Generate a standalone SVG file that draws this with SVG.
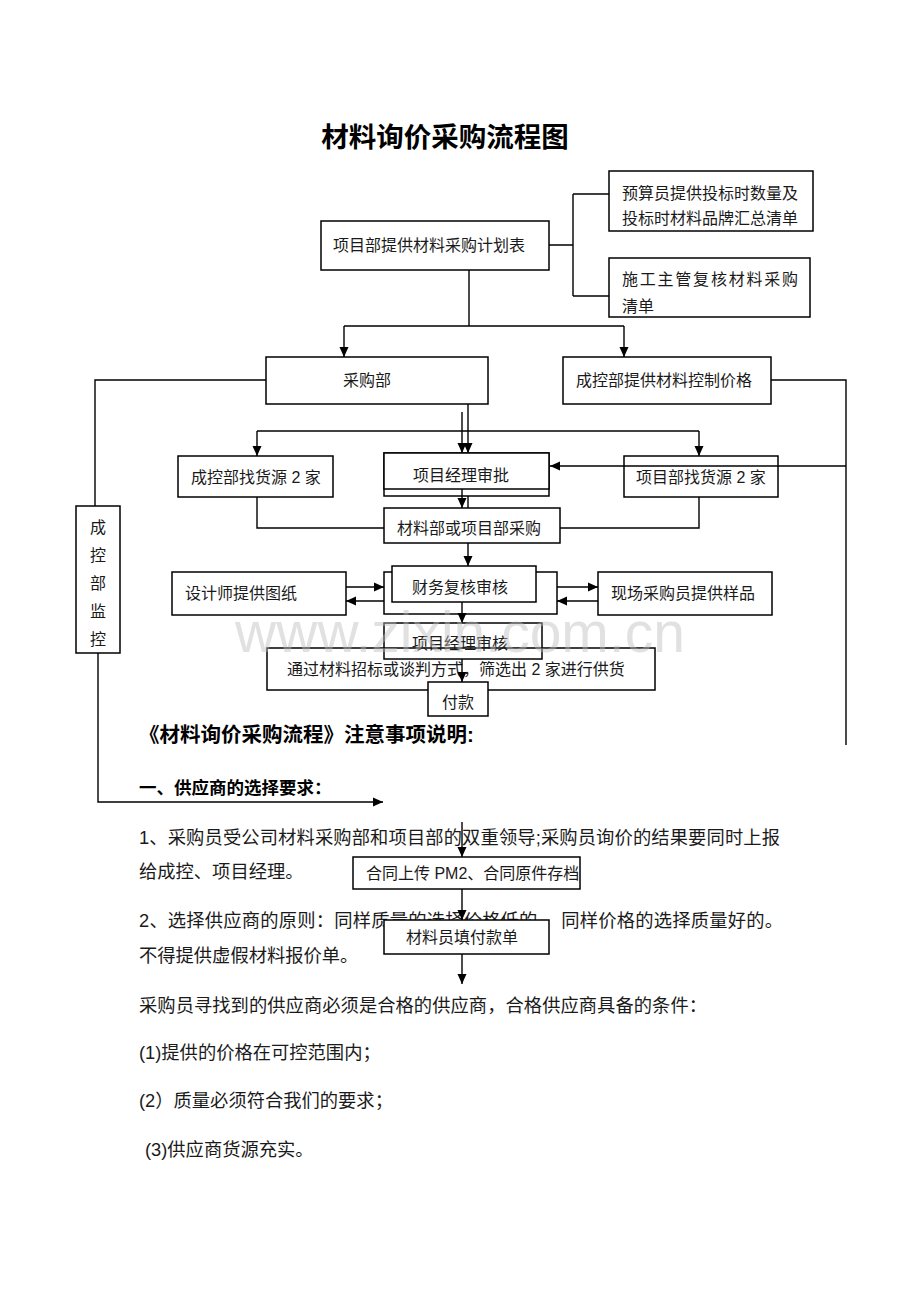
<svg xmlns="http://www.w3.org/2000/svg" width="920" height="1302" viewBox="0 0 920 1302">
<style>
.box{fill:#fff;stroke:#000;stroke-width:1.5}
.t{font-family:"Liberation Sans","Noto Sans CJK SC",sans-serif;font-size:16px;fill:#1a1a1a}
.b{font-family:"Liberation Sans","Noto Sans CJK SC",sans-serif;font-size:18.3px;fill:#1a1a1a}
.h{font-family:"Liberation Sans","Noto Sans CJK SC",sans-serif;font-weight:bold;fill:#000}
.c{fill:none;stroke:#000;stroke-width:1.4}
.a{marker-end:url(#arr)}
</style>
<defs>
<marker id="arr" viewBox="0 0 10 10" refX="10" refY="5" markerWidth="10" markerHeight="10" markerUnits="userSpaceOnUse" orient="auto">
<path d="M0,0.5 L10,5 L0,9.5 z" fill="#000"/>
</marker>
</defs>
<rect width="920" height="1302" fill="#fff"/>
<text class="h" x="445" y="147" font-size="27.5" text-anchor="middle">材料询价采购流程图</text>
<g id="notes">
<text class="h" x="139" y="742" font-size="20.5">《材料询价采购流程》注意事项说明:</text>
<text class="h" x="139" y="794" font-size="17.5">一、供应商的选择要求：</text>
<text class="b" x="139" y="844" textLength="641" lengthAdjust="spacing">1、采购员受公司材料采购部和项目部的双重领导;采购员询价的结果要同时上报</text>
<text class="b" x="139" y="878">给成控、项目经理。</text>
<text class="b" x="139" y="927" textLength="644" lengthAdjust="spacing">2、选择供应商的原则：同样质量的选择价格低的， 同样价格的选择质量好的。</text>
<text class="b" x="139" y="962">不得提供虚假材料报价单。</text>
<text class="b" x="139" y="1012" textLength="568" lengthAdjust="spacing">采购员寻找到的供应商必须是合格的供应商，合格供应商具备的条件：</text>
<text class="b" x="139" y="1059">(1)提供的价格在可控范围内；</text>
<text class="b" x="139" y="1107">(2）质量必须符合我们的要求；</text>
<text class="b" x="145" y="1156">(3)供应商货源充实。</text>
</g>
<g id="n-plan"><rect class="box" x="321" y="221" width="228" height="49"/><text class="t" x="333" y="251">项目部提供材料采购计划表</text></g>
<g id="n-budget"><rect class="box" x="609" y="171" width="204" height="60"/><text class="t" x="622" y="199">预算员提供投标时数量及</text><text class="t" x="622" y="224">投标时材料品牌汇总清单</text></g>
<g id="n-construct"><rect class="box" x="609" y="258" width="201" height="59"/><text class="t" x="622" y="285" textLength="176" lengthAdjust="spacing">施工主管复核材料采购</text><text class="t" x="622" y="312">清单</text></g>
<g id="n-purchase"><rect class="box" x="266" y="357" width="222" height="47"/><text class="t" x="343" y="386">采购部</text></g>
<g id="n-costprice"><rect class="box" x="563" y="357" width="208" height="47"/><text class="t" x="576" y="386">成控部提供材料控制价格</text></g>
<g id="n-monitor"><rect class="box" x="76" y="506" width="44" height="147"/>
<text class="t" x="98" y="533" text-anchor="middle">成</text><text class="t" x="98" y="561" text-anchor="middle">控</text><text class="t" x="98" y="589" text-anchor="middle">部</text><text class="t" x="98" y="617" text-anchor="middle">监</text><text class="t" x="98" y="645" text-anchor="middle">控</text></g>
<g id="n-costsrc"><rect class="box" x="178" y="456" width="155" height="41"/><text class="t" x="191" y="483">成控部找货源 2 家</text></g>
<g id="n-projsrc"><rect class="box" x="624" y="456" width="154" height="41"/><text class="t" x="636" y="483">项目部找货源 2 家</text></g>
<g id="n-pmapprove"><rect class="box" x="384" y="453" width="165" height="43"/><rect class="box" x="384" y="453" width="165" height="36"/><text class="t" x="413" y="481">项目经理审批</text></g>
<g id="n-buy"><rect class="box" x="384" y="508" width="176" height="35"/><text class="t" x="397" y="534">材料部或项目部采购</text></g>
<g id="n-finance"><rect class="box" x="384" y="572" width="173" height="42"/><rect class="box" x="392" y="566" width="144" height="36"/><text class="t" x="412" y="593">财务复核审核</text></g>
<g id="n-designer"><rect class="box" x="172" y="572" width="174" height="43"/><text class="t" x="185" y="599">设计师提供图纸</text></g>
<g id="n-sample"><rect class="box" x="598" y="572" width="174" height="43"/><text class="t" x="611" y="599">现场采购员提供样品</text></g>
<g id="n-tender"><rect class="box" x="267" y="648" width="388" height="42"/><text class="t" x="287" y="675">通过材料招标或谈判方式，筛选出 2 家进行供货</text></g>
<g id="n-pmreview"><rect class="box" x="384" y="623" width="158" height="36" style="fill:none"/><rect x="385" y="624" width="156" height="23" fill="#fff"/><text class="t" x="412" y="649">项目经理审核</text></g>
<g id="n-pay"><rect class="box" x="428" y="682" width="60" height="34"/><text class="t" x="442" y="708">付款</text></g>
<g id="n-contract"><rect class="box" x="353" y="857" width="227" height="32"/><text class="t" x="366" y="879" font-size="15">合同上传 PM2、合同原件存档</text></g>
<g id="n-payform"><rect class="box" x="384" y="920" width="165" height="34"/><text class="t" x="406" y="943">材料员填付款单</text></g>
<g id="connectors">
<path class="c" d="M549,245 H573 M573,194 V296 M573,194 H609 M573,296 H609"/>
<path class="c" d="M469,270 V326 M344,326 H624"/>
<path class="c a" d="M344,326 V357"/>
<path class="c a" d="M624,326 V357"/>
<path class="c" d="M266,380 H95 V506 M771,380 H846 V745"/>
<path class="c a" d="M98,653 V802 H383"/>
<path class="c a" d="M846,466 H550"/>
<path class="c a" d="M462,412 V453"/>
<path class="c a" d="M468,404 V453"/>
<path class="c" d="M257,431 H699"/>
<path class="c a" d="M257,431 V456"/>
<path class="c a" d="M699,431 V456"/>
<path class="c a" d="M462,489 V508"/>
<path class="c" d="M468,496 V508"/>
<path class="c" d="M257,497 V528 H384 M699,497 V528 H560"/>
<path class="c a" d="M468,543 V566"/>
<path class="c a" d="M346,587 H384"/>
<path class="c a" d="M384,601 H346"/>
<path class="c a" d="M557,587 H598"/>
<path class="c a" d="M598,601 H557"/>
<path class="c a" d="M462,602 V623"/>
<path class="c a" d="M462,659 V682"/>
<path class="c a" d="M462,822 V857"/>
<path class="c a" d="M462,889 V920"/>
<path class="c a" d="M462,954 V984"/>
</g>
<text x="460" y="652" text-anchor="middle" font-family="Liberation Sans, sans-serif" font-size="57" fill="#bdbdbd" fill-opacity="0.45">www.zixin.com.cn</text>
</svg>
